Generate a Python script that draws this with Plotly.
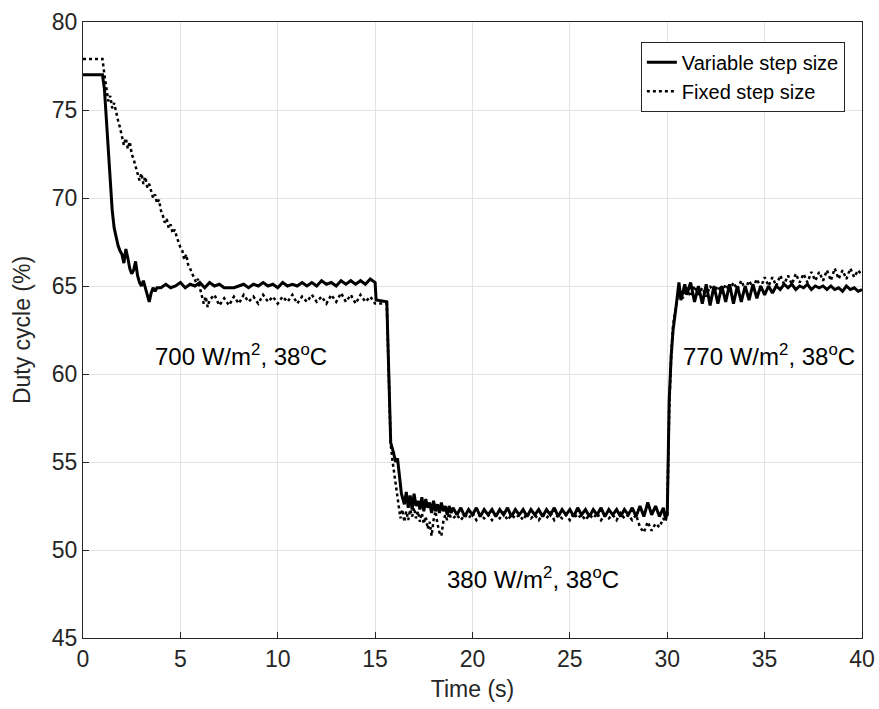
import numpy as np
import plotly.graph_objects as go

# ---------------- Variable step size (solid) ----------------
var_t_start = [0.0, 1.0, 1.1, 1.2, 1.3, 1.4, 1.5, 1.6, 1.7, 1.8, 1.9, 2.0, 2.1, 2.2, 2.3,
               2.4, 2.5, 2.6, 2.7, 2.8, 2.9, 3.0, 3.1, 3.2, 3.3, 3.4, 3.5, 3.6, 3.7, 3.8]
var_v_start = [77.0, 77.0, 76.2, 74.5, 72.5, 70.8, 69.3, 68.3, 67.7, 67.3, 67.0, 66.8, 66.3, 67.1, 66.6,
               66.0, 65.7, 65.9, 66.4, 65.6, 65.2, 65.0, 65.3, 64.9, 64.5, 64.1, 64.6, 64.9, 64.7, 64.9]

# 4.0 .. 15.0 s, every 0.25 s
var_v_700 = [64.9, 65.1, 64.9, 65.0, 65.2, 64.9, 65.1, 65.0, 65.2, 64.9,
             65.2, 65.0, 65.1, 64.9, 64.9, 64.9, 65.0, 65.1, 64.9, 65.1,
             65.0, 65.2, 65.0, 65.1, 64.9, 65.2, 65.0, 65.1, 65.0, 65.2,
             65.0, 65.2, 65.0, 65.3, 65.1, 65.2, 65.0, 65.3, 65.1, 65.3,
             65.1, 65.3, 65.1, 65.4, 65.2]

var_t_drop = [15.05, 15.6, 15.7, 15.75, 15.8, 15.95, 16.05, 16.15, 16.25, 16.35, 16.45]
var_v_drop = [64.2, 64.1, 60.0, 57.5, 56.1, 55.5, 55.0, 55.2, 54.0, 53.2, 52.8]

# 16.5 .. 18.9 s, every 0.1 s
var_v_settle = [52.6, 53.3, 52.4, 53.1, 52.3, 53.2, 52.5, 52.8, 52.3, 53.0,
                52.2, 52.9, 52.4, 52.7, 52.1, 52.8, 52.2, 52.6, 52.1, 52.7,
                52.2, 52.5, 52.0, 52.5, 52.1]

# 19.0 .. 29.8 s, every 0.2 s
var_v_380 = [52.4, 52.0, 52.4, 51.9, 52.3, 52.0, 52.4, 51.9, 52.3, 52.0, 52.3,
             51.9, 52.3, 52.0, 52.4, 51.9, 52.3, 52.0, 52.3, 51.9, 52.3, 52.0,
             52.3, 51.9, 52.3, 52.0, 52.4, 51.9, 52.3, 52.0, 52.3, 51.9, 52.4,
             52.0, 52.3, 51.9, 52.3, 52.0, 52.4, 51.9, 52.3, 52.0, 52.3, 51.9,
             52.3, 52.0, 52.4, 51.9, 52.5, 51.9, 52.7, 52.0, 52.5, 51.9, 52.4]

var_t_rise = [29.9, 30.0, 30.05, 30.1, 30.2, 30.3, 30.45, 30.6, 30.7, 30.8, 30.9, 31.0]
var_v_rise = [51.8, 52.0, 56.0, 58.5, 61.0, 62.5, 63.8, 65.2, 64.2, 64.6, 65.1, 64.5]

# 31.2 .. 35.4 s, every 0.2 s
var_v_osc = [65.2, 64.1, 65.0, 64.0, 65.1, 63.9, 65.0, 64.0, 65.0, 64.1, 65.1,
             64.0, 65.0, 64.1, 65.0, 64.2, 65.1, 64.3, 65.0, 64.5, 65.0, 64.6]

# 35.6 .. 40.0 s, every 0.2 s
var_v_770 = [65.0, 64.8, 65.1, 64.9, 65.1, 64.8, 65.0, 64.9, 65.1, 64.8, 65.0, 64.9,
             65.0, 64.8, 65.0, 64.8, 64.9, 64.7, 65.0, 64.8, 64.9, 64.7, 64.8]

# ---------------- Fixed step size (dotted) ----------------
fix_t_start = [0.0]
fix_v_start = [77.9]

# 1.0 .. 6.5 s, every 0.1 s
fix_v_slope = [77.9, 77.0, 76.2, 75.5, 75.8, 75.1, 75.4, 74.8, 74.4, 74.0,
               73.5, 73.0, 73.4, 72.8, 73.2, 72.5, 72.2, 71.8, 71.4, 71.0,
               71.4, 70.8, 71.2, 70.6, 70.8, 70.4, 70.0, 70.2, 69.7, 69.9,
               69.3, 69.0, 68.6, 68.8, 68.3, 68.5, 68.0, 68.2, 67.8, 67.5,
               67.2, 67.0, 66.5, 66.8, 66.2, 66.0, 65.7, 65.5, 65.2, 65.4,
               64.9, 64.5, 64.0, 64.4, 63.8, 64.2]

# 6.75 .. 15.0 s, every 0.25 s
fix_v_700 = [64.5, 63.9, 64.3, 63.9, 64.4, 64.0, 64.5, 64.1, 64.4, 64.0,
             64.5, 64.1, 64.4, 64.0, 64.4, 64.1, 64.5, 64.0, 64.4, 64.1,
             64.5, 64.1, 64.4, 64.0, 64.5, 64.1, 64.6, 64.1, 64.5, 64.0,
             64.5, 64.1, 64.4, 64.0]

fix_t_drop = [15.1, 15.6, 15.7, 15.8, 15.9]
fix_v_drop = [64.0, 64.0, 60.0, 56.0, 55.0]

# 16.0 .. 18.9 s, every 0.1 s
fix_v_settle = [54.2, 53.4, 52.5, 51.8, 52.3, 51.6, 52.2, 51.7, 52.3, 51.9,
                52.4, 51.8, 52.2, 51.6, 52.1, 51.5, 51.9, 51.2, 51.6, 50.8,
                51.7, 52.2, 51.5, 51.0, 50.8, 51.6, 52.0, 51.7, 52.1, 51.8]

# 19.0 .. 28.4 s, every 0.2 s
fix_v_380 = [51.8, 52.0, 51.7, 52.0, 51.8, 52.1, 51.7, 52.0, 51.8, 52.0,
             51.7, 52.0, 51.8, 52.1, 51.7, 52.0, 51.8, 52.0, 51.7, 52.1,
             51.8, 52.0, 51.7, 52.0, 51.8, 52.1, 51.7, 52.0, 51.8, 52.0,
             51.7, 52.1, 51.8, 52.0, 51.7, 52.0, 51.8, 52.1, 51.7, 52.0,
             51.8, 52.0, 51.7, 52.1, 51.8, 52.0, 51.7, 52.0]

fix_t_rise = [28.6, 28.8, 29.0, 29.2, 29.4, 29.6, 29.8, 29.9, 30.0,
              30.05, 30.1, 30.2, 30.3, 30.45, 30.6]
fix_v_rise = [51.3, 51.0, 51.6, 51.1, 51.5, 51.3, 51.8, 51.6, 52.0,
              55.0, 58.0, 61.0, 62.8, 63.8, 64.8]

# 30.8 .. 40.0 s, every 0.2 s
fix_v_770 = [64.3, 64.9, 64.4, 65.0, 64.5, 64.9, 64.4, 65.0, 64.6, 65.0,
             64.6, 65.1, 64.7, 65.2, 64.8, 65.3, 64.8, 65.3, 64.9, 65.4,
             64.9, 65.5, 65.0, 65.5, 65.0, 65.6, 65.1, 65.6, 65.1, 65.7,
             65.2, 65.7, 65.2, 65.8, 65.3, 65.8, 65.3, 65.9, 65.3, 66.0,
             65.4, 65.9, 65.4, 66.0, 65.5, 65.9, 65.6]

x_ticks = [0, 5, 10, 15, 20, 25, 30, 35, 40]
y_ticks = [45, 50, 55, 60, 65, 70, 75, 80]

conditions = ["700 W/m<sup>2</sup>, 38<sup>o</sup>C",
              "380 W/m<sup>2</sup>, 38<sup>o</sup>C",
              "770 W/m<sup>2</sup>, 38<sup>o</sup>C"]
condition_x = [8.1, 23.1, 35.2]
condition_y = [61.1, 48.4, 61.1]


def grid(start, step, values):
    return list(np.round(start + step * np.arange(len(values)), 3))


var_t = (var_t_start + grid(4.0, 0.25, var_v_700) + var_t_drop
         + grid(16.5, 0.1, var_v_settle) + grid(19.0, 0.2, var_v_380)
         + var_t_rise + grid(31.2, 0.2, var_v_osc) + grid(35.6, 0.2, var_v_770))
var_v = (var_v_start + var_v_700 + var_v_drop + var_v_settle + var_v_380
         + var_v_rise + var_v_osc + var_v_770)

fix_t = (fix_t_start + grid(1.0, 0.1, fix_v_slope) + grid(6.75, 0.25, fix_v_700)
         + fix_t_drop + grid(16.0, 0.1, fix_v_settle) + grid(19.0, 0.2, fix_v_380)
         + fix_t_rise + grid(30.8, 0.2, fix_v_770))
fix_v = (fix_v_start + fix_v_slope + fix_v_700 + fix_v_drop + fix_v_settle
         + fix_v_380 + fix_v_rise + fix_v_770)

ink = "#262626"
font_family = "Liberation Sans, Arial, sans-serif"

fig = go.Figure()
fig.add_trace(go.Scatter(x=var_t, y=var_v, mode="lines", name="Variable step size",
                         line=dict(color="black", width=3)))
fig.add_trace(go.Scatter(x=fix_t, y=fix_v, mode="lines", name="Fixed step size",
                         line=dict(color="black", width=2.5, dash="dot")))

for txt, xx, yy in zip(conditions, condition_x, condition_y):
    fig.add_annotation(x=xx, y=yy, text=txt, showarrow=False,
                       font=dict(size=24, color="black", family=font_family),
                       xanchor="center", yanchor="middle")

axis_common = dict(showline=True, mirror=True, linecolor=ink, linewidth=1,
                   ticks="inside", ticklen=6, tickcolor=ink,
                   showgrid=True, gridcolor="#e3e3e3", gridwidth=1,
                   zeroline=False, automargin=False,
                   tickfont=dict(size=23, color=ink, family=font_family))

fig.update_xaxes(range=[0, 40], tickvals=x_ticks,
                 title=dict(text="Time (s)", font=dict(size=23, color=ink, family=font_family),
                            standoff=10),
                 **axis_common)
fig.update_yaxes(range=[45, 80], tickvals=y_ticks,
                 title=dict(text="Duty cycle (%)", font=dict(size=23, color=ink, family=font_family),
                            standoff=14),
                 **axis_common)

fig.update_layout(
    width=879, height=709,
    margin=dict(l=83, r=17, t=22, b=71),
    plot_bgcolor="white", paper_bgcolor="white",
    font=dict(family=font_family, color=ink),
    legend=dict(x=0.978, y=0.968, xanchor="right", yanchor="top",
                bgcolor="white", bordercolor=ink, borderwidth=1,
                font=dict(size=20, color="black", family=font_family),
                tracegroupgap=0),
    showlegend=True,
)

fig.write_html("out.html")
